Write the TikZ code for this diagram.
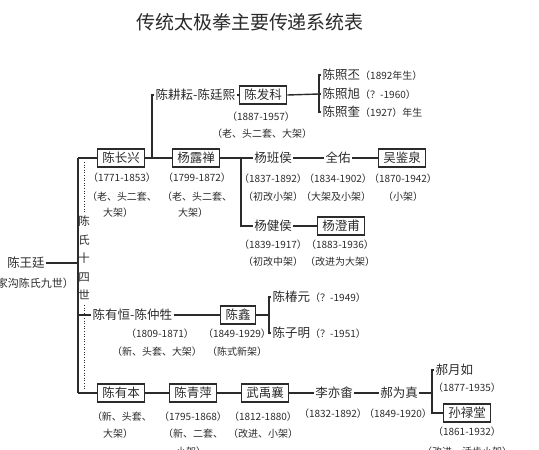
\documentclass[tikz,border=0pt]{standalone}
\usepackage{fontspec}
\setmainfont{Noto Sans CJK SC}
\definecolor{ink}{HTML}{2B2B2B}
\newcommand\smf{\fontsize{10}{12}\selectfont}
\tikzset{
 nm/.style={font=\fontsize{12.5}{14}\selectfont, inner sep=1.5pt, text=ink},
 bx/.style={nm, draw=ink, line width=1.3pt, inner xsep=5pt, inner ysep=1pt, minimum height=18pt},
 sm/.style={font=\smf, inner sep=0pt, text=ink},
 ttl/.style={font=\fontsize{19}{22}\selectfont, text=ink},
 vt/.style={font=\fontsize{11.5}{18.5}\selectfont, text=ink, align=center, inner sep=0pt},
 ln/.style={draw=ink, line width=1.4pt},
 dt/.style={draw=ink, line width=1pt, dash pattern=on 1pt off 1.6pt},
}
\begin{document}
\begin{tikzpicture}[x=1pt,y=-1pt]
\useasboundingbox (0,0) rectangle (539,450);
\node[ttl] (t) at (250,22) {传统太极拳主要传递系统表};

% root
\node[nm] (wt) at (26,263) {陈王廷};
\node[sm, anchor=east, font=\fontsize{11}{13}\selectfont] (wtd) at (74,283) {（陈家沟陈氏九世）};
\coordinate (vt) at (78,158);
\coordinate (vm) at (78,263);
\coordinate (vh) at (78,315);
\coordinate (vb) at (78,393);
\draw[ln] (wt.east) -- (vm);
\draw[ln] (vt) -- (vb);
\node[vt] (gen) at (84,258) {陈\\氏\\十\\四\\世};
\coordinate (d1) at (84,162);
\coordinate (d2) at (84,212);
\coordinate (d3) at (84,305);
\coordinate (d4) at (84,390);
\draw[dt] (d1) -- (d2);
\draw[dt] (d3) -- (d4);

% row 1: Chen Changxing / Yang Luchan
\node[bx] (cx) at (121,158) {陈长兴};
\node[bx] (yl) at (196,158) {杨露禅};
\draw[ln] (vt) -- (cx.west);
\draw[ln] (cx.east) -- (yl.west);
\node[sm] (cxd1) at (122,178) {（1771-1853）};
\node[sm] (cxd2) at (122,197) {（老、头二套、};
\node[sm] (cxd3) at (118,213) {大架）};
\node[sm] (yld1) at (197,178) {（1799-1872）};
\node[sm] (yld2) at (197,197) {（老、头二套、};
\node[sm] (yld3) at (193,213) {大架）};

% Chen Fake branch
\coordinate (j1) at (152,158);
\node[nm, anchor=west] (cg) at (154,95) {陈耕耘-陈廷熙};
\node[bx] (fk) at (263,95) {陈发科};
\draw[ln] (j1) |- (cg.west);
\draw[ln] (cg.east) -- (fk.west);
\node[sm] (fkd1) at (261,117) {（1887-1957）};
\node[sm] (fkd2) at (262,134) {（老、头二套、大架）};
\coordinate (b1) at (319,94);
\draw[ln] (fk.east) -- (b1);
\node[nm, anchor=west] (z1) at (321,75) {陈照丕{\smf（1892年生）}};
\node[nm, anchor=west] (z2) at (321,94) {陈照旭{\smf（？-1960）}};
\node[nm, anchor=west] (z3) at (321,112) {陈照奎{\smf（1927）年生}};
\draw[ln] (z1.west) -| (b1) |- (z3.west);
\draw[ln] (b1) -- (z2.west);

% Yang branches
\coordinate (j2) at (241,158);
\node[nm] (bh) at (273,158) {杨班侯};
\node[nm] (qy) at (338,158) {全佑};
\node[bx] (wj) at (402,158) {吴鉴泉};
\draw[ln] (yl.east) -- (bh.west);
\draw[ln] (bh.east) -- (qy.west);
\draw[ln] (qy.east) -- (wj.west);
\node[sm] (bhd1) at (273,179) {（1837-1892）};
\node[sm] (qyd1) at (338,179) {（1834-1902）};
\node[sm] (wjd1) at (403,179) {（1870-1942）};
\node[sm] (bhd2) at (273,197) {（初改小架）};
\node[sm] (qyd2) at (336,197) {（大架及小架）};
\node[sm] (wjd2) at (403,197) {（小架）};

\node[nm] (jh) at (273,226) {杨健侯};
\node[bx] (yc) at (341,226) {杨澄甫};
\draw[ln] (j2) |- (jh.west);
\draw[ln] (jh.east) -- (yc.west);
\node[sm] (jhd1) at (273,245) {（1839-1917）};
\node[sm] (ycd1) at (340,245) {（1883-1936）};
\node[sm] (jhd2) at (273,262) {（初改中架）};
\node[sm] (ycd2) at (340,262) {（改进为大架）};

% row 3: Chen Youheng
\node[nm, anchor=west] (yh) at (91,315) {陈有恒-陈仲牲};
\node[bx] (cxn) at (238,315) {陈鑫};
\draw[ln] (vh) -- (yh.west);
\draw[ln] (yh.east) -- (cxn.west);
\coordinate (b2) at (269,315);
\draw[ln] (cxn.east) -- (b2);
\node[nm, anchor=west] (cy) at (271,297) {陈椿元{\smf（？-1949）}};
\node[nm, anchor=west] (cm) at (271,333) {陈子明{\smf（？-1951）}};
\draw[ln] (cy.west) -| (b2) |- (cm.west);
\node[sm] (yhd1) at (160,334) {（1809-1871）};
\node[sm] (cxnd1) at (237,334) {（1849-1929）};
\node[sm] (yhd2) at (157,352) {（新、头套、大架）};
\node[sm] (cxnd2) at (237,352) {（陈式新架）};

% row 4: Chen Youben
\node[bx] (yb) at (121,393) {陈有本};
\node[bx] (cq) at (193,393) {陈青萍};
\node[bx] (wy) at (265,393) {武禹襄};
\node[nm] (ly) at (334,393) {李亦畬};
\node[nm] (hw) at (399,393) {郝为真};
\draw[ln] (vb) -- (yb.west);
\draw[ln] (yb.east) -- (cq.west);
\draw[ln] (cq.east) -- (wy.west);
\draw[ln] (wy.east) -- (ly.west);
\draw[ln] (ly.east) -- (hw.west);
\coordinate (b3) at (432,393);
\draw[ln] (hw.east) -- (b3);
\node[nm, anchor=west] (hy) at (434,370) {郝月如};
\node[bx] (sl) at (467,413) {孙禄堂};
\draw[ln] (hy.west) -| (b3) |- (sl.west);

\node[sm] (ybd1) at (122,417) {（新、头套、};
\node[sm] (ybd2) at (118,434) {大架）};
\node[sm] (cqd1) at (193,417) {（1795-1868）};
\node[sm] (cqd2) at (193,434) {（新、二套、};
\node[sm] (cqd3) at (191,452) {小架）};
\node[sm] (wyd1) at (263,417) {（1812-1880）};
\node[sm] (wyd2) at (263,434) {（改进、小架）};
\node[sm] (lyd1) at (333,414) {（1832-1892）};
\node[sm] (hwd1) at (398,414) {（1849-1920）};
\node[sm] (hyd1) at (467,388) {（1877-1935）};
\node[sm] (sld1) at (467,432) {（1861-1932）};
\node[sm] (sld2) at (467,452) {（改进、活步小架）};
\end{tikzpicture}
\end{document}
